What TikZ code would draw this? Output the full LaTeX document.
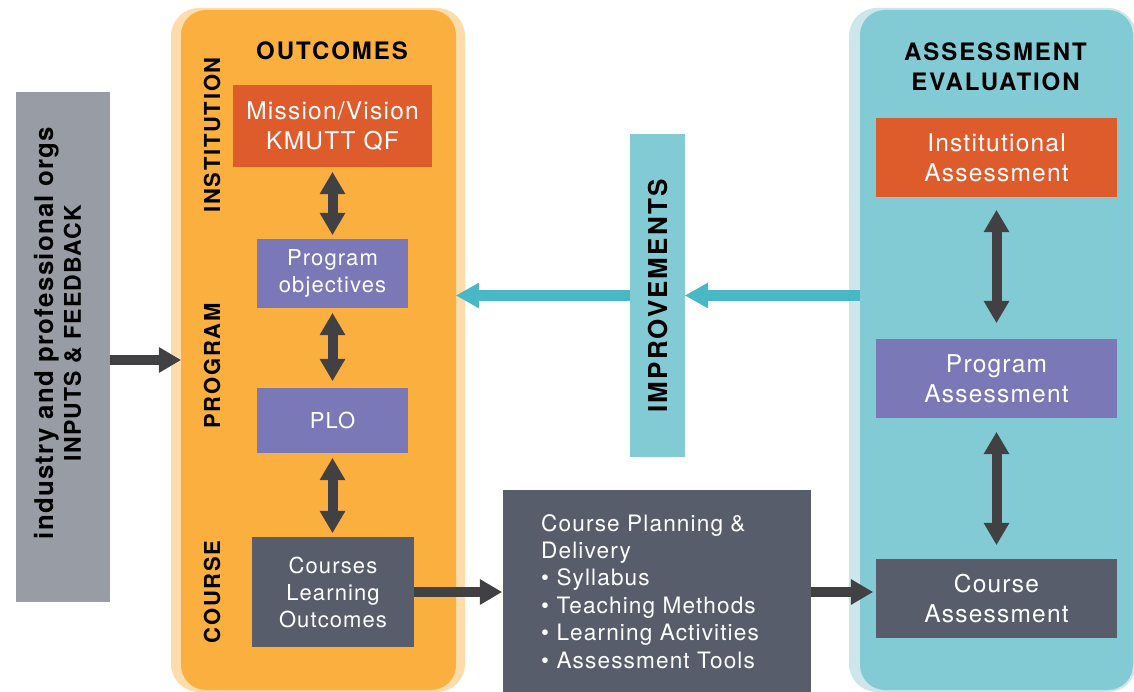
\documentclass[tikz,border=0pt]{standalone}
\usepackage{fontspec}
\setmainfont{TeX Gyre Heros}[LetterSpace=5]
\newfontfamily\titlefont{TeX Gyre Heros}[LetterSpace=8]
\usetikzlibrary{arrows.meta}
\definecolor{peach}{HTML}{FEDCAB}
\definecolor{orangep}{HTML}{FBAF3F}
\definecolor{lteal}{HTML}{CCE6EB}
\definecolor{tealp}{HTML}{82CBD4}
\definecolor{redbox}{HTML}{DE5B2B}
\definecolor{purplebox}{HTML}{7B78B8}
\definecolor{slatebox}{HTML}{575D6A}
\definecolor{graybox}{HTML}{989DA5}
\definecolor{tealarrow}{HTML}{49B8C6}
\definecolor{darkarrow}{HTML}{414042}
\tikzset{
  panel/.style={draw=none, inner sep=0pt},
  box/.style={draw=none, inner sep=0pt, text=white, align=center},
  title/.style={inner sep=0pt, text=black, align=center, font=\titlefont\bfseries\fontsize{24}{30}\selectfont},
  side/.style={inner sep=0pt, text=black, rotate=90, font=\titlefont\bfseries\fontsize{22}{26}\selectfont},
  darrow/.style={draw=darkarrow, line width=10pt, -{Triangle[width=26pt,length=22pt,line width=0pt]}},
  ddarrow/.style={draw=darkarrow, line width=10pt, {Triangle[width=26pt,length=22pt,line width=0pt]}-{Triangle[width=26pt,length=22pt,line width=0pt]}},
  tarrow/.style={draw=tealarrow, line width=11pt, -{Triangle[width=26pt,length=23pt,line width=0pt]}}
}
\begin{document}
\begin{tikzpicture}[x=1pt,y=-1pt]
\useasboundingbox (0,0) rectangle (1134,692);
\fill[white] (0,0) rectangle (1134,692);

% panels
\node[panel, fill=peach, minimum width=294pt, minimum height=684pt, rounded corners=28pt] (oback) at (318,350) {};
\node[panel, fill=orangep, minimum width=275pt, minimum height=680pt, rounded corners=25pt] (ocore) at (318.5,350) {};
\node[panel, fill=lteal, minimum width=287pt, minimum height=684pt, rounded corners=28pt] (tback) at (992.5,350) {};
\node[panel, fill=tealp, minimum width=273pt, minimum height=680pt, rounded corners=25pt] (tcore) at (996.5,350) {};

% titles
\node[title] (outt) at (332,51) {OUTCOMES};
\node[title] (aet) at (995.5,67) {ASSESSMENT\\EVALUATION};

% side labels
\node[side] (linst) at (212,135) {INSTITUTION};
\node[side] (lprog) at (212,366) {PROGRAM};
\node[side] (lcourse) at (212,592) {COURSE};

% left input box
\node[panel, fill=graybox, minimum width=94pt, minimum height=510pt] (gray) at (63,347) {};
\node[inner sep=0pt, rotate=90, align=center, font=\bfseries\fontsize{25.8}{27}\selectfont] (graytext) at (58,333)
  {industry and professional orgs\\{\fontsize{23}{27}\selectfont INPUTS \& FEEDBACK}};

% outcomes boxes
\node[box, fill=redbox, minimum width=199pt, minimum height=82pt, font=\fontsize{24.5}{30}\selectfont] (mission) at (332.5,126) {Mission/Vision\\KMUTT QF};
\node[box, fill=purplebox, minimum width=151pt, minimum height=69pt, font=\fontsize{22}{27}\selectfont] (pobj) at (332.5,273.5) {Program\\objectives};
\node[box, fill=purplebox, minimum width=151pt, minimum height=65pt, font=\fontsize{22}{27}\selectfont] (plo) at (332.5,420.5) {PLO};
\node[box, fill=slatebox, minimum width=162pt, minimum height=110pt, font=\fontsize{22}{27}\selectfont] (clo) at (333,592) {Courses\\Learning\\Outcomes};

% course planning
\node[panel, fill=slatebox, minimum width=308pt, minimum height=210pt] (cpd) at (657,595) {};
\node[inner sep=0pt, anchor=north west, align=left, text=white, font=\fontsize{22.6}{27.4}\selectfont] (cpdtext) at (541,514)
  {Course Planning \&\\Delivery\\• Syllabus\\• Teaching Methods\\• Learning Activities\\• Assessment Tools};

% improvements
\node[panel, fill=tealp, minimum width=55pt, minimum height=323pt] (imp) at (657.5,295.5) {};
\node[inner sep=0pt, rotate=90, text=black, font=\titlefont\bfseries\fontsize{26}{30}\selectfont] (imptext) at (658,296) {IMPROVEMENTS};

% assessment boxes
\node[box, fill=redbox, minimum width=241pt, minimum height=79pt, font=\fontsize{24.5}{30}\selectfont] (insta) at (996.5,157.5) {Institutional\\Assessment};
\node[box, fill=purplebox, minimum width=241pt, minimum height=79pt, font=\fontsize{24.5}{30}\selectfont] (proga) at (996.5,378.5) {Program\\Assessment};
\node[box, fill=slatebox, minimum width=241pt, minimum height=79pt, font=\fontsize{24.5}{30}\selectfont] (coursea) at (996.5,598.5) {Course\\Assessment};

% vertical double arrows
\draw[ddarrow, shorten <=5pt, shorten >=4pt] (mission.south) -- (mission.south |- pobj.north);
\draw[ddarrow, shorten <=5pt, shorten >=7pt] (pobj.south) -- (pobj.south |- plo.north);
\draw[ddarrow, shorten <=5pt, shorten >=4pt] (plo.south) -- (plo.south |- clo.north);
\draw[ddarrow, shorten <=13pt, shorten >=16pt] (insta.south) -- (insta.south |- proga.north);
\draw[ddarrow, shorten <=14pt, shorten >=14pt] (proga.south) -- (proga.south |- coursea.north);

% horizontal arrows
\draw[darrow] ([yshift=-13pt]gray.east) -- ([yshift=-13pt]gray.east -| ocore.west);
\draw[darrow, shorten >=1pt] (clo.east) -- (clo.east -| cpd.west);
\draw[darrow, shorten >=3pt] (cpd.east |- clo.east) -- (coursea.west |- clo.east);
\draw[tarrow] (tcore.west |- imp.east) -- (imp.east);
\draw[tarrow] (imp.west) -- (imp.west -| ocore.east);
\end{tikzpicture}
\end{document}
